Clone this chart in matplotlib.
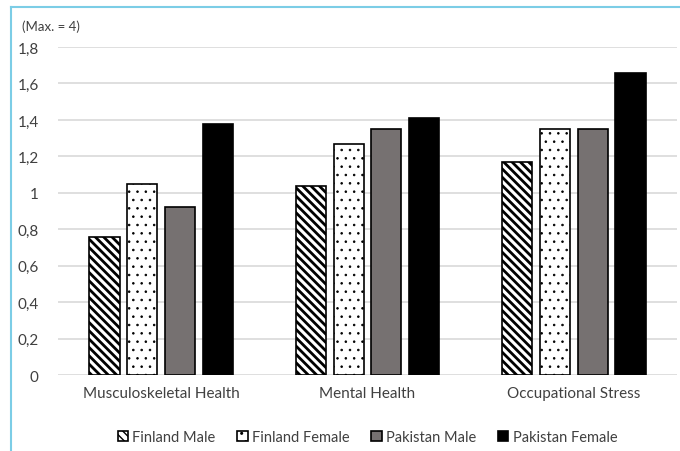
import matplotlib.pyplot as plt
from matplotlib.lines import Line2D
import numpy as np

categories = ['Musculoskeletal Health', 'Mental Health', 'Occupational Stress']
finland_male = [0.76, 1.04, 1.17]
finland_female = [1.05, 1.27, 1.35]
pakistan_male = [0.92, 1.35, 1.35]
pakistan_female = [1.38, 1.41, 1.66]
series_names = ['Finland Male', 'Finland Female', 'Pakistan Male', 'Pakistan Female']
y_ticks = [0, 0.2, 0.4, 0.6, 0.8, 1.0, 1.2, 1.4, 1.6, 1.8]


def main():
    plt.rcParams['font.family'] = ['Lato', 'DejaVu Sans']
    fig = plt.figure(figsize=(6.8, 4.52), dpi=100)
    ax = fig.add_axes([0.0853, 0.168, 0.9103, 0.7258])

    x = np.arange(len(categories))
    slot = 0.183
    width = 0.146
    styles = [
        dict(color='white', hatch='\\\\\\\\', hlw=2.0),
        dict(color='white', hatch='..', hlw=0.6),
        dict(color='#767171', hatch=None, hlw=1.0),
        dict(color='black', hatch=None, hlw=1.0),
    ]
    data = [finland_male, finland_female, pakistan_male, pakistan_female]
    for i, (vals, name, st) in enumerate(zip(data, series_names, styles)):
        offs = (i - 1.5) * slot
        with plt.rc_context({'hatch.linewidth': st['hlw']}):
            bars = ax.bar(x + offs, vals, width, label=name, linewidth=1.2,
                          zorder=3, facecolor=st['color'], edgecolor='black',
                          hatch=st['hatch'])
        for b in bars:
            if hasattr(b, 'set_hatch_linewidth'):
                b.set_hatch_linewidth(st['hlw'])

    ax.set_xlim(-0.5, 2.5)
    ax.set_ylim(0, 1.8)
    ax.set_yticks(y_ticks)
    ax.set_yticklabels([('%g' % t).replace('.', ',') for t in y_ticks])
    ax.set_xticks(x)
    ax.set_xticklabels(categories)
    ax.tick_params(axis='both', length=0, labelsize=11, colors='#404040')
    ax.tick_params(axis='y', pad=14)
    ax.tick_params(axis='x', pad=8)
    ax.grid(axis='y', color='#d9d9d9', linewidth=1.2, zorder=0)
    for s in ax.spines.values():
        s.set_visible(False)

    fig.text(22 / 680, 1 - 27 / 452, '(Max. = 4)', fontsize=9.5, color='#404040',
             va='center', ha='left')

    leg = ax.legend(loc='center', bbox_to_anchor=(0.5, -0.19), ncol=4,
                    frameon=False, fontsize=10.5, handlelength=0.7,
                    handleheight=0.7, handletextpad=0.3, columnspacing=1.5,
                    labelcolor='#404040')

    # light blue frame lines at top and left
    fig.add_artist(Line2D([11 / 680, 1], [1 - 8 / 452, 1 - 8 / 452],
                          color='#7ccde6', linewidth=1.5))
    fig.add_artist(Line2D([11 / 680, 11 / 680], [0, 1 - 8 / 452],
                          color='#7ccde6', linewidth=1.5))

    fig.savefig('out.png', dpi=100)


if __name__ == "__main__":
    main()
